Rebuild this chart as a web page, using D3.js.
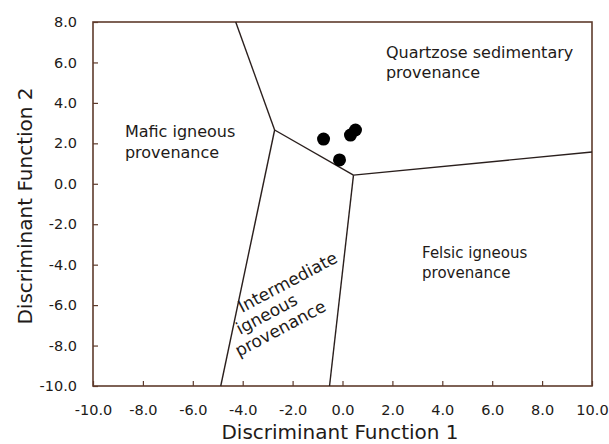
<!DOCTYPE html>
<html>
<head>
<meta charset="utf-8">
<script src="https://cdn.jsdelivr.net/npm/d3@7"></script>
<style>
  body { margin: 0; background: #fff; }
  svg { display: block; font-family: "DejaVu Sans", Verdana, sans-serif; }
</style>
</head>
<body>
<svg id="chart" width="609" height="444"></svg>
<script>
// tick values for both axes
const xTicks = [-10, -8, -6, -4, -2, 0, 2, 4, 6, 8, 10]
const yTicks = [-10, -8, -6, -4, -2, 0, 2, 4, 6, 8]

// field boundary segments [x, y] in discriminant function space
const boundaries = [
  [[-4.28, 8], [-2.72, 2.66]],
  [[-2.72, 2.66], [0.44, 0.43]],
  [[0.44, 0.43], [10, 1.57]],
  [[0.44, 0.43], [-0.52, -10]],
  [[-2.72, 2.66], [-4.88, -10]]
]

// sample points
const samples = [
  { df1: -0.76, df2: 2.21 },
  { df1: -0.12, df2: 1.18 },
  { df1: 0.32, df2: 2.41 },
  { df1: 0.52, df2: 2.66 }
]

// field labels
const fieldLabels = [
  { lines: ["Quartzose sedimentary", "provenance"], x: 1.74, y: 6.22, size: 16 },
  { lines: ["Mafic igneous", "provenance"], x: -8.72, y: 2.31, size: 16 },
  { lines: ["Felsic igneous", "provenance"], x: 3.19, y: -3.67, size: 15 }
]
// rotated label, each line anchored at its own start
const intermediateLines = [
  { text: "Intermediate", x: -4.03, y: -6.39 },
  { text: "igneous", x: -4.11, y: -7.48 },
  { text: "provenance", x: -4.15, y: -8.57 }
]

const svg = d3.select("#chart")
const margin = { top: 22, right: 17, bottom: 58, left: 93 }
const width = 609 - margin.left - margin.right
const height = 444 - margin.top - margin.bottom

const frameColor = "#5e3b2c"
const textColor = "#221a18"

const x = d3.scaleLinear().domain([-10, 10]).range([0, width])
const y = d3.scaleLinear().domain([-10, 8]).range([height, 0])

const g = svg.append("g").attr("transform", `translate(${margin.left},${margin.top})`)

const fmt = d => d.toFixed(1)

// axes with inward ticks
const xAxis = g.append("g")
  .attr("transform", `translate(0,${height})`)
  .call(d3.axisBottom(x).tickValues(xTicks).tickFormat(fmt).tickSize(-5).tickPadding(19))
const yAxis = g.append("g")
  .call(d3.axisLeft(y).tickValues(yTicks).tickFormat(fmt).tickSize(-5).tickPadding(16))

;[xAxis, yAxis].forEach(ax => {
  ax.select(".domain").remove()
  ax.selectAll(".tick line").attr("stroke", frameColor).attr("stroke-width", 1.2)
  ax.selectAll(".tick text")
    .attr("fill", textColor)
    .attr("font-size", 14.5)
    .attr("font-family", "DejaVu Sans, Verdana, sans-serif")
})

// frame
g.append("rect")
  .attr("x", 0).attr("y", 0)
  .attr("width", width).attr("height", height)
  .attr("fill", "none")
  .attr("stroke", frameColor)
  .attr("stroke-width", 1.6)

// boundaries
const line = d3.line().x(d => x(d[0])).y(d => y(d[1]))
g.selectAll(".boundary")
  .data(boundaries)
  .enter()
  .append("path")
  .attr("class", "boundary")
  .attr("d", line)
  .attr("fill", "none")
  .attr("stroke", "#2a1f1d")
  .attr("stroke-width", 1.4)

// samples
g.selectAll(".sample")
  .data(samples)
  .enter()
  .append("circle")
  .attr("class", "sample")
  .attr("cx", d => x(d.df1))
  .attr("cy", d => y(d.df2))
  .attr("r", 6.5)
  .attr("fill", "#000")

// field labels
fieldLabels.forEach(lab => {
  const t = g.append("text")
    .attr("x", x(lab.x))
    .attr("y", y(lab.y))
    .attr("font-size", lab.size)
    .attr("fill", textColor)
  lab.lines.forEach((s, i) => {
    t.append("tspan")
      .attr("x", x(lab.x))
      .attr("dy", i === 0 ? 0 : 20.5)
      .text(s)
  })
})

g.selectAll(".inter")
  .data(intermediateLines)
  .enter()
  .append("text")
  .attr("class", "inter")
  .attr("transform", d => `translate(${x(d.x)},${y(d.y)}) rotate(-28)`)
  .attr("font-size", 17)
  .attr("fill", textColor)
  .text(d => d.text)

// axis titles
svg.append("text")
  .attr("x", 340)
  .attr("y", 439)
  .attr("text-anchor", "middle")
  .attr("font-size", 20)
  .attr("fill", textColor)
  .text("Discriminant Function 1")

svg.append("text")
  .attr("transform", "translate(32,206) rotate(-90)")
  .attr("text-anchor", "middle")
  .attr("font-size", 20)
  .attr("fill", textColor)
  .text("Discriminant Function 2")
</script>
</body>
</html>
